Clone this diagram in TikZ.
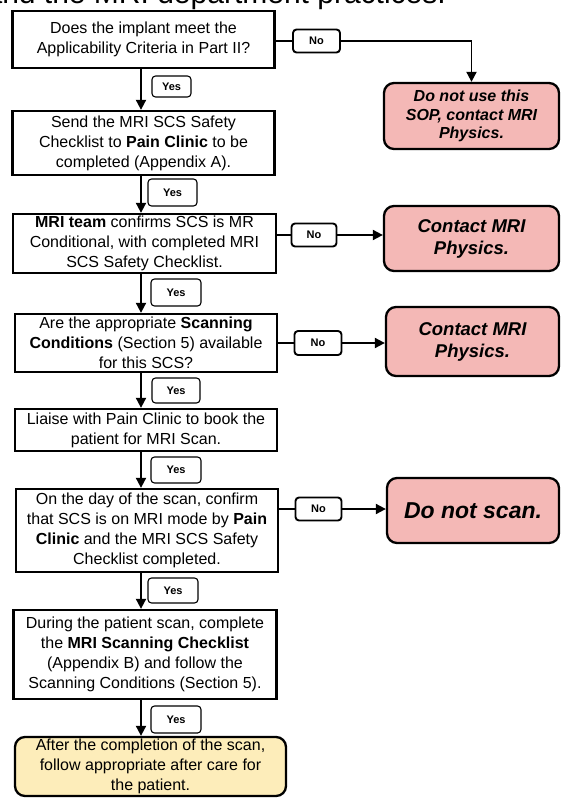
\documentclass[tikz,border=0pt]{standalone}
\usepackage{fontspec}
\setmainfont{Liberation Sans}
\usetikzlibrary{arrows.meta}
\definecolor{redfill}{RGB}{244,184,182}
\definecolor{yellowfill}{RGB}{253,237,186}
\tikzset{
  stepbox/.style={draw, line width=2.3pt, inner sep=0pt, align=center, font=\fontsize{16}{20}\selectfont},
  endbox/.style={draw, line width=2.3pt, rounded corners=10pt, fill=redfill, align=center, inner sep=0pt},
  donebox/.style={draw, line width=2.3pt, rounded corners=10pt, fill=yellowfill, align=center, inner sep=0pt, font=\fontsize{16}{20}\selectfont},
  yeslab/.style={draw, line width=1.1pt, rounded corners=3.5pt, inner sep=0pt, font=\bfseries\fontsize{11}{13}\selectfont},
  nolab/.style={draw, line width=1.9pt, rounded corners=3.5pt, inner sep=0pt, font=\bfseries\fontsize{11}{13}\selectfont},
  flow/.style={line width=1.9pt, -{Triangle[length=10pt,width=10pt]}},
  link/.style={line width=1.9pt},
}
\begin{document}
\begin{tikzpicture}[x=1pt,y=-1pt]
\useasboundingbox (0,0) rectangle (562,799);
\fill[white] (0,0) rectangle (562,799);
\node[anchor=base east, inner sep=0pt, font=\fontsize{30}{36}\selectfont] (hdr) at (446,4) {and the MRI department practices.};
\coordinate (ax) at (141,0);
% left column
\node[stepbox, minimum width=262pt, minimum height=57pt] (b1) at (143.5,39.5) {Does the implant meet the\\Applicability Criteria in Part II?};
\node[stepbox, minimum width=262pt, minimum height=64pt] (b2) at (143.5,143) {Send the MRI SCS Safety\\Checklist to \textbf{Pain Clinic} to be\\completed (Appendix A).};
\node[stepbox, minimum width=263pt, minimum height=59pt] (b3) at (144.5,243.5) {\textbf{MRI team} confirms SCS is MR\\Conditional, with completed MRI\\SCS Safety Checklist.};
\node[stepbox, minimum width=262pt, minimum height=58pt] (b4) at (146,343) {Are the appropriate \textbf{Scanning}\\\textbf{Conditions} (Section 5) available\\for this SCS?};
\node[stepbox, minimum width=262pt, minimum height=42pt] (b5) at (146,430) {Liaise with Pain Clinic to book the\\patient for MRI Scan.};
\node[stepbox, minimum width=262pt, minimum height=83pt] (b6) at (147,530.5) {On the day of the scan, confirm\\that SCS is on MRI mode by \textbf{Pain}\\\textbf{Clinic} and the MRI SCS Safety\\Checklist completed.};
\node[stepbox, minimum width=263pt, minimum height=89pt] (b7) at (145,654.5) {During the patient scan, complete\\the \textbf{MRI Scanning Checklist}\\(Appendix B) and follow the\\Scanning Conditions (Section 5).};
\node[donebox, minimum width=271pt, minimum height=59pt] (b8) at (150.5,766.5) {After the completion of the scan,\\follow appropriate after care for\\the patient.};
% right column
\node[endbox, minimum width=175pt, minimum height=66pt, font=\bfseries\itshape\fontsize{16}{18.5}\selectfont] (r1) at (471.5,116) {Do not use this\\SOP, contact MRI\\Physics.};
\node[endbox, minimum width=175pt, minimum height=65pt, font=\bfseries\itshape\fontsize{18.5}{22}\selectfont] (r2) at (471.5,238.5) {Contact MRI\\Physics.};
\node[endbox, minimum width=173pt, minimum height=69pt, font=\bfseries\itshape\fontsize{18.5}{22}\selectfont] (r3) at (472.5,341.5) {Contact MRI\\Physics.};
\node[endbox, minimum width=172pt, minimum height=65pt, font=\bfseries\itshape\fontsize{23}{27}\selectfont] (r4) at (473,510.5) {Do not scan.};
% yes labels
\node[yeslab, minimum width=39pt, minimum height=21pt] (y1) at (171.5,86.5) {Yes};
\node[yeslab, minimum width=49pt, minimum height=27pt] (y2) at (172.5,192.5) {Yes};
\node[yeslab, minimum width=50pt, minimum height=27pt] (y3) at (176,292.5) {Yes};
\node[yeslab, minimum width=48pt, minimum height=25pt] (y4) at (176,390.5) {Yes};
\node[yeslab, minimum width=50pt, minimum height=26pt] (y5) at (176,470) {Yes};
\node[yeslab, minimum width=50pt, minimum height=25pt] (y6) at (173,590.5) {Yes};
\node[yeslab, minimum width=50pt, minimum height=27pt] (y7) at (176,719.5) {Yes};
% no labels
\node[nolab, minimum width=47pt, minimum height=23pt] (n1) at (316.5,41) {No};
\node[nolab, minimum width=45pt, minimum height=23pt] (n2) at (314,235) {No};
\node[nolab, minimum width=47pt, minimum height=24pt] (n3) at (318,343) {No};
\node[nolab, minimum width=46pt, minimum height=23pt] (n4) at (318.5,509) {No};
% yes flow
\draw[flow] (b1.south -| ax) -- (b2.north -| ax);
\draw[flow] (b2.south -| ax) -- (b3.north -| ax);
\draw[flow] (b3.south -| ax) -- (b4.north -| ax);
\draw[flow] (b4.south -| ax) -- (b5.north -| ax);
\draw[flow] (b5.south -| ax) -- (b6.north -| ax);
\draw[flow] (b6.south -| ax) -- (b7.north -| ax);
\draw[flow] (b7.south -| ax) -- (b8.north -| ax);
% no flow
\draw[link] (b1.east |- n1) -- (n1.west);
\draw[flow] (n1.east) -| (r1.north);
\draw[link] (b3.east |- n2) -- (n2.west);
\draw[flow] (n2.east) -- (r2.west |- n2);
\draw[link] (b4.east |- n3) -- (n3.west);
\draw[flow] (n3.east) -- (r3.west |- n3);
\draw[link] (b6.east |- n4) -- (n4.west);
\draw[flow] (n4.east) -- (r4.west |- n4);
\end{tikzpicture}
\end{document}
